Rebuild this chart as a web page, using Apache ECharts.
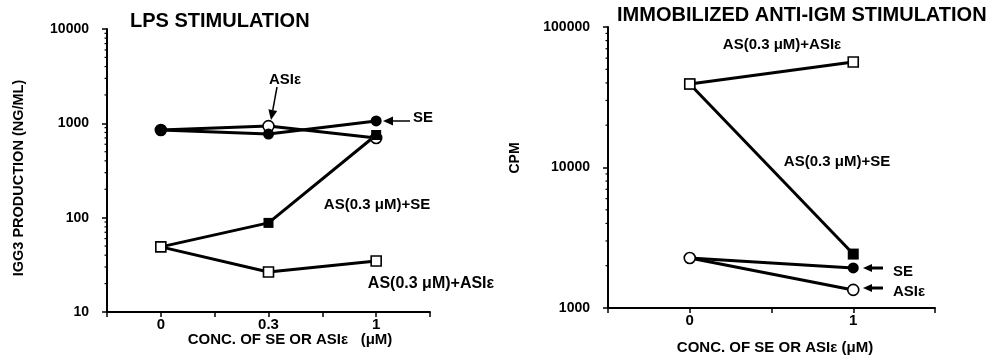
<!DOCTYPE html>
<html>
<head>
<meta charset="utf-8">
<script src="https://cdn.jsdelivr.net/npm/echarts@6/dist/echarts.min.js"></script>
<style>
  html, body { margin: 0; padding: 0; background: #fff; }
  #chart { width: 996px; height: 361px; }
</style>
</head>
<body>
<div id="chart"></div>
<script>
// LPS stimulation (left panel)
const lpsTicks = ['0', '0.3', '1'];
const lpsSE = [850, 770, 1060];
const lpsASI = [850, 935, 700];
const lpsASSE = [49, 88, 752];
const lpsASASI = [49, 26.5, 34.7];
const lpsMinor = [20, 30, 40, 50, 60, 70, 80, 90, 200, 300, 400, 500, 600, 700, 800, 900, 2000, 3000, 4000, 5000, 6000, 7000, 8000, 9000];

// Immobilized anti-IgM stimulation (right panel)
const igmTicks = ['0', '1'];
const igmASASI = [39300, 56300];
const igmASSE = [39300, 2420];
const igmSE = [2270, 1930];
const igmASI = [2270, 1345];
const igmMinor = [2000, 3000, 4000, 5000, 6000, 7000, 8000, 9000, 20000, 30000, 40000, 50000, 60000, 70000, 80000, 90000];

const FONT = '"Liberation Sans", Arial, sans-serif';

function pts(arr) {
    return arr.map((v, i) => [i, v]);
}

function lineSeries(idx, arr, symbol, filled, size) {
    return {
        type: 'line',
        xAxisIndex: idx,
        yAxisIndex: idx,
        data: pts(arr),
        symbol: symbol,
        symbolSize: size,
        showAllSymbol: true,
        lineStyle: { color: '#000', width: 3 },
        itemStyle: {
            color: filled ? '#000' : '#fff',
            borderColor: '#000',
            borderWidth: filled ? 0 : 1.6
        },
        emphasis: { disabled: true },
        animation: false,
        z: 3
    };
}

function minorTicks(idx, vals, xMin) {
    return {
        type: 'custom',
        xAxisIndex: idx,
        yAxisIndex: idx,
        data: vals.map(v => [xMin, v]),
        silent: true,
        clip: false,
        renderItem: (params, api) => {
            const p = api.coord([api.value(0), api.value(1)]);
            return {
                type: 'line',
                shape: { x1: p[0] - 2.5, y1: p[1], x2: p[0] + 1, y2: p[1] },
                style: { stroke: '#000', lineWidth: 1.2 }
            };
        },
        z: 2
    };
}

function xAxis(idx, min, max, ticks) {
    return {
        type: 'value',
        gridIndex: idx,
        min: min,
        max: max,
        interval: 0.5,
        axisLine: { onZero: false, lineStyle: { color: '#000', width: 2 } },
        axisTick: { length: 5, lineStyle: { color: '#000', width: 1.5 } },
        splitLine: { show: false },
        axisLabel: {
            color: '#000',
            fontFamily: FONT,
            fontWeight: 'bold',
            fontSize: 15,
            margin: 5,
            showMinLabel: true,
            showMaxLabel: true,
            formatter: v => (Number.isInteger(v) && ticks[v] !== undefined) ? ticks[v] : ''
        }
    };
}

function yAxis(idx, min, max) {
    return {
        type: 'log',
        logBase: 10,
        gridIndex: idx,
        min: min,
        max: max,
        axisLine: { onZero: false, lineStyle: { color: '#000', width: 2 } },
        axisTick: { length: 5, lineStyle: { color: '#000', width: 1.5 } },
        splitLine: { show: false },
        axisLabel: {
            color: '#000',
            fontFamily: FONT,
            fontWeight: 'bold',
            fontSize: 14,
            margin: 18,
            formatter: v => String(Math.round(v))
        }
    };
}

function txt(x, y, s, size, align, rot) {
    return {
        type: 'text',
        x: x,
        y: y,
        rotation: rot || 0,
        style: {
            text: s,
            fill: '#000',
            font: 'bold ' + size + 'px ' + FONT,
            align: align || 'left',
            verticalAlign: 'middle'
        }
    };
}

function arrow(x1, y1, x2, y2, w, head) {
    // tail (x1,y1) -> tip (x2,y2)
    const a = Math.atan2(y2 - y1, x2 - x1);
    const hl = head, hw = head * 0.45;
    const bx = x2 - hl * Math.cos(a), by = y2 - hl * Math.sin(a);
    return {
        type: 'group',
        children: [
            {
                type: 'line',
                shape: { x1: x1, y1: y1, x2: bx, y2: by },
                style: { stroke: '#000', lineWidth: w }
            },
            {
                type: 'polygon',
                shape: {
                    points: [
                        [x2, y2],
                        [bx + hw * Math.sin(a), by - hw * Math.cos(a)],
                        [bx - hw * Math.sin(a), by + hw * Math.cos(a)]
                    ]
                },
                style: { fill: '#000' }
            }
        ]
    };
}

const myChart = echarts.init(document.getElementById('chart'));
const option = {
    backgroundColor: '#fff',
    animation: false,
    grid: [
        { left: 107, top: 29, width: 323, height: 283 },
        { left: 608, top: 27, width: 327, height: 281 }
    ],
    xAxis: [
        xAxis(0, -0.5, 2.5, lpsTicks),
        xAxis(1, -0.5, 1.5, igmTicks)
    ],
    yAxis: [
        yAxis(0, 10, 10000),
        yAxis(1, 1000, 100000)
    ],
    series: [
        minorTicks(0, lpsMinor, -0.5),
        minorTicks(1, igmMinor, -0.5),
        lineSeries(0, lpsASI, 'circle', false, 11),
        lineSeries(0, lpsSE, 'circle', true, 11),
        lineSeries(0, lpsASSE, 'rect', true, 10),
        lineSeries(0, lpsASASI, 'rect', false, 10),
        lineSeries(1, igmSE, 'circle', true, 11),
        lineSeries(1, igmASI, 'circle', false, 11),
        lineSeries(1, igmASSE, 'rect', true, 11),
        lineSeries(1, igmASASI, 'rect', false, 10)
    ],
    graphic: [
        txt(130, 21, 'LPS STIMULATION', 20),
        txt(617, 15, 'IMMOBILIZED ANTI-IGM STIMULATION', 20),
        txt(19, 178, 'IGG3 PRODUCTION (NG/ML)', 14.5, 'center', Math.PI / 2),
        txt(515, 158, 'CPM', 14, 'center', Math.PI / 2),
        txt(290, 340, 'CONC. OF SE OR ASIε   (μM)', 15, 'center'),
        txt(775, 348, 'CONC. OF SE OR ASIε (μM)', 15, 'center'),
        // left panel annotations
        txt(285, 80, 'ASIε', 15, 'center'),
        arrow(277, 87, 271, 120, 1.5, 10),
        arrow(410, 121, 383, 121, 1.5, 10),
        txt(413, 118, 'SE', 15),
        txt(377, 205, 'AS(0.3 μM)+SE', 15, 'center'),
        txt(431, 284, 'AS(0.3 μM)+ASIε', 16, 'center'),
        // right panel annotations
        txt(782, 45, 'AS(0.3 μM)+ASIε', 15, 'center'),
        txt(837, 162, 'AS(0.3 μM)+SE', 15, 'center'),
        arrow(883, 268, 863, 268, 3, 9),
        txt(893, 272, 'SE', 15),
        arrow(883, 288, 863, 288, 3, 9),
        txt(893, 292, 'ASIε', 15)
    ]
};
myChart.setOption(option);
</script>
</body>
</html>
